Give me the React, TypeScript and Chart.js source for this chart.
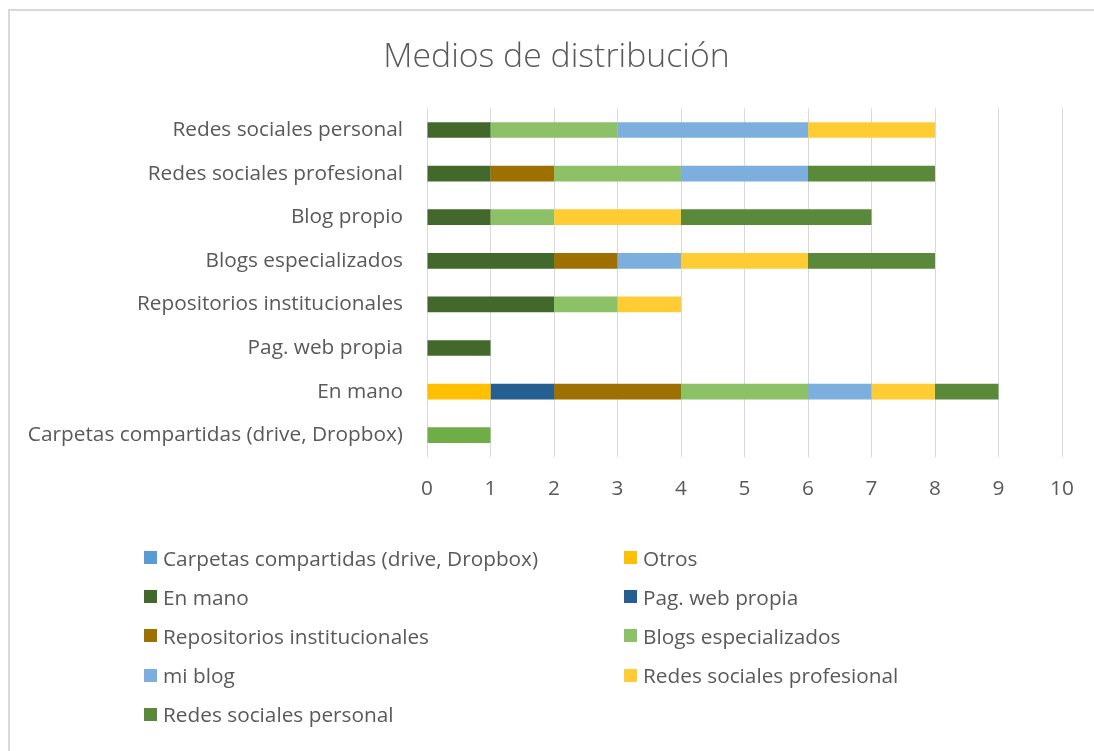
import React, { useEffect, useRef } from "react";
import { Chart, registerables } from "chart.js";

Chart.register(...registerables);

// ---- Data ----
const chartTitle = "Medios de distribución";

const categories = [
  "Redes sociales personal",
  "Redes sociales profesional",
  "Blog propio",
  "Blogs especializados",
  "Repositorios institucionales",
  "Pag. web propia",
  "En mano",
  "Carpetas compartidas (drive, Dropbox)",
];

const seriesNames = [
  "Carpetas compartidas (drive, Dropbox)",
  "Otros",
  "En mano",
  "Pag. web propia",
  "Repositorios institucionales",
  "Blogs especializados",
  "mi blog",
  "Redes sociales profesional",
  "Redes sociales personal",
];

const carpetasValues = [0, 0, 0, 0, 0, 0, 0, 1];
const otrosValues = [0, 0, 0, 0, 0, 0, 1, 0];
const enManoValues = [1, 1, 1, 2, 2, 1, 0, 0];
const pagWebValues = [0, 0, 0, 0, 0, 0, 1, 0];
const repositoriosValues = [0, 1, 0, 1, 0, 0, 2, 0];
const blogsEspValues = [2, 2, 1, 0, 1, 0, 2, 0];
const miBlogValues = [3, 2, 0, 1, 0, 0, 1, 0];
const redesProfValues = [2, 0, 2, 2, 1, 0, 1, 0];
const redesPersValues = [0, 2, 3, 2, 0, 0, 1, 0];

const seriesValues = [
  carpetasValues,
  otrosValues,
  enManoValues,
  pagWebValues,
  repositoriosValues,
  blogsEspValues,
  miBlogValues,
  redesProfValues,
  redesPersValues,
];

const seriesColors = [
  "#5B9BD5",
  "#FFC000",
  "#43682B",
  "#255E91",
  "#9E7000",
  "#8CC168",
  "#7CAFDD",
  "#FFCD33",
  "#5A893A",
];
// the single "Carpetas compartidas" bar is drawn in a different green in the original
const carpetasPointColor = "#70AD47";

const xMin = 0;
const xMax = 10;

const FONT = "'Open Sans', sans-serif";
const TEXT = "#595959";
const GRID = "#D9D9D9";
const LABEL_SIZE = 20.8;
const TITLE_SIZE = 33.8;

// draws the title centred on the chart frame (which is offset from the plot)
const titlePlugin = {
  id: "frameTitle",
  afterDraw(chart: any) {
    const ctx = chart.ctx;
    ctx.save();
    ctx.font = `300 ${TITLE_SIZE}px ${FONT}`;
    ctx.fillStyle = TEXT;
    ctx.textAlign = "center";
    ctx.textBaseline = "middle";
    ctx.fillText(chartTitle, 556.5, 57);
    ctx.restore();
  },
};

export default function App() {
  const ref = useRef<HTMLCanvasElement>(null);

  useEffect(() => {
    document.documentElement.style.overflow = "hidden";
    document.body.style.margin = "0";
    document.body.style.overflow = "hidden";
    const canvas = ref.current!;
    const chart = new Chart(canvas, {
      type: "bar",
      data: {
        labels: categories,
        datasets: seriesNames.map((name, i) => ({
          label: name,
          data: seriesValues[i],
          backgroundColor:
            i === 0
              ? seriesValues[i].map((v, j) =>
                  categories[j] === seriesNames[0] ? carpetasPointColor : seriesColors[0]
                )
              : seriesColors[i],
          borderWidth: 0,
          categoryPercentage: 1,
          barPercentage: 0.36,
        })),
      },
      options: {
        indexAxis: "y",
        responsive: false,
        animation: false,
        layout: { padding: { left: 12, right: 32, top: 108.2, bottom: 244 } },
        plugins: {
          legend: { display: false },
          tooltip: { enabled: false },
          title: { display: false },
        },
        scales: {
          x: {
            stacked: true,
            min: xMin,
            max: xMax,
            ticks: {
              stepSize: 1,
              color: TEXT,
              font: { family: FONT, size: LABEL_SIZE },
              padding: 20,
            },
            grid: { color: GRID, lineWidth: 1, drawTicks: false },
            border: { display: false },
            afterFit: (s: any) => {
              s.height = 50;
            },
          },
          y: {
            stacked: true,
            ticks: {
              color: TEXT,
              font: { family: FONT, size: LABEL_SIZE },
              padding: 24,
              autoSkip: false,
            },
            grid: { display: false, drawTicks: false },
            border: { display: false },
            afterFit: (s: any) => {
              s.width = 415;
            },
          },
        },
      },
      plugins: [titlePlugin],
    });
    return () => chart.destroy();
  }, []);

  return (
    <div style={{ position: "relative", width: 1094, height: 751, overflow: "hidden", background: "#fff" }}>
      <div
        style={{
          position: "absolute",
          left: 8,
          top: 9,
          width: 1086,
          height: 742,
          boxSizing: "border-box",
          borderLeft: "2px solid " + GRID,
          borderTop: "2px solid " + GRID,
        }}
      />
      <canvas ref={ref} width={1094} height={751} style={{ position: "absolute", left: 0, top: 0 }} />
      <div
        style={{
          position: "absolute",
          left: 144,
          top: 538,
          display: "grid",
          gridTemplateColumns: "480px 320px",
          gridAutoRows: "39.2px",
          fontFamily: FONT,
          fontSize: LABEL_SIZE,
          color: TEXT,
        }}
      >
        {seriesNames.map((name, i) => (
          <div key={name} style={{ display: "flex", alignItems: "center", whiteSpace: "nowrap" }}>
            <span
              style={{
                display: "inline-block",
                width: 13,
                height: 13,
                background: seriesColors[i],
                marginRight: 6,
                flexShrink: 0,
              }}
            />
            <span>{name}</span>
          </div>
        ))}
      </div>
    </div>
  );
}
